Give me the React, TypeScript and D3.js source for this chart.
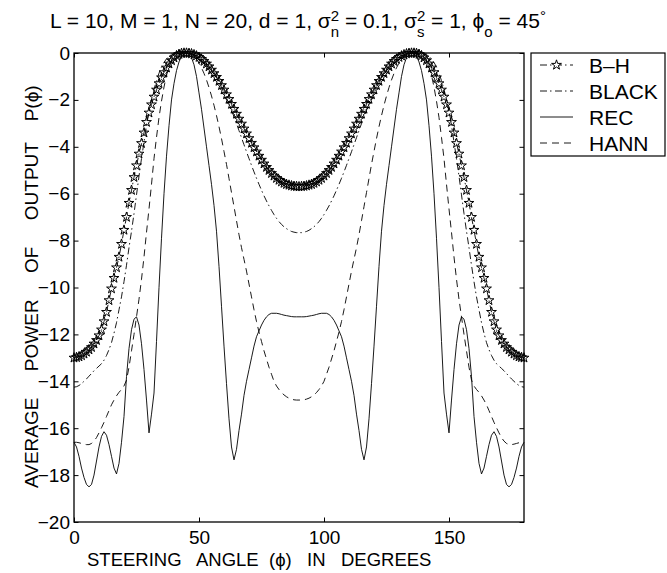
import React, { useEffect, useRef } from 'react';
import * as d3 from 'd3';

// steering angle, degrees
const angles = d3.range(0, 181);

const bhPower = [
  -13.0, -12.98, -12.95, -12.9, -12.83, -12.75, -12.65, -12.55, -12.4, -12.25,
  -12.05, -11.8, -11.45, -11.05, -10.55, -10.05, -9.6, -9.15, -8.7, -8.15,
  -7.55, -7.0, -6.4, -5.85, -5.3, -4.8, -4.3, -3.85, -3.4, -2.95,
  -2.55, -2.2, -1.87, -1.57, -1.3, -1.05, -0.83, -0.63, -0.46, -0.32,
  -0.2, -0.11, -0.05, -0.015, 0, 0, -0.01, -0.03, -0.07, -0.12,
  -0.18, -0.26, -0.35, -0.46, -0.58, -0.72, -0.87, -1.03, -1.2, -1.38,
  -1.57, -1.77, -1.97, -2.18, -2.39, -2.6, -2.81, -3.02, -3.23, -3.44,
  -3.64, -3.84, -4.03, -4.21, -4.39, -4.56, -4.72, -4.87, -5.0, -5.13,
  -5.24, -5.34, -5.42, -5.49, -5.55, -5.6, -5.63, -5.66, -5.68, -5.69,
  -5.7,
  -5.69, -5.68, -5.66, -5.63, -5.6, -5.55, -5.49, -5.42, -5.34, -5.24,
  -5.13, -5.0, -4.87, -4.72, -4.56, -4.39, -4.21, -4.03, -3.84, -3.64,
  -3.44, -3.23, -3.02, -2.81, -2.6, -2.39, -2.18, -1.97, -1.77, -1.57,
  -1.38, -1.2, -1.03, -0.87, -0.72, -0.58, -0.46, -0.35, -0.26, -0.18,
  -0.12, -0.07, -0.03, -0.01, 0, 0, -0.015, -0.05, -0.11, -0.2,
  -0.32, -0.46, -0.63, -0.83, -1.05, -1.3, -1.57, -1.87, -2.2, -2.55,
  -2.95, -3.4, -3.85, -4.3, -4.8, -5.3, -5.85, -6.4, -7.0, -7.55,
  -8.15, -8.7, -9.15, -9.6, -10.05, -10.55, -11.05, -11.45, -11.8, -12.05,
  -12.25, -12.4, -12.55, -12.65, -12.75, -12.83, -12.9, -12.95, -12.98, -13.0,
];

const blackPower = [
  -14.25, -14.23, -14.18, -14.1, -14.0, -13.9, -13.78, -13.67, -13.55, -13.45,
  -13.35, -13.25, -13.1, -12.9, -12.65, -12.35, -11.95, -11.5, -10.95, -10.4,
  -9.75, -9.05, -8.3, -7.6, -6.85, -6.05, -5.25, -4.5, -3.8, -3.1,
  -2.5, -2.0, -1.55, -1.18, -0.86, -0.6, -0.4, -0.25, -0.14, -0.07,
  -0.03, -0.01, 0, 0, 0, 0, -0.01, -0.03, -0.06, -0.11,
  -0.17, -0.25, -0.35, -0.47, -0.6, -0.75, -0.91, -1.08, -1.27, -1.47,
  -1.69, -1.92, -2.17, -2.44, -2.72, -3.01, -3.31, -3.61, -3.91, -4.21,
  -4.5, -4.79, -5.07, -5.34, -5.6, -5.85, -6.09, -6.31, -6.52, -6.71,
  -6.89, -7.05, -7.19, -7.31, -7.41, -7.49, -7.56, -7.61, -7.64, -7.66,
  -7.66,
  -7.66, -7.64, -7.61, -7.56, -7.49, -7.41, -7.31, -7.19, -7.05, -6.89,
  -6.71, -6.52, -6.31, -6.09, -5.85, -5.6, -5.34, -5.07, -4.79, -4.5,
  -4.21, -3.91, -3.61, -3.31, -3.01, -2.72, -2.44, -2.17, -1.92, -1.69,
  -1.47, -1.27, -1.08, -0.91, -0.75, -0.6, -0.47, -0.35, -0.25, -0.17,
  -0.11, -0.06, -0.03, -0.01, 0, 0, 0, 0, -0.01, -0.03,
  -0.07, -0.14, -0.25, -0.4, -0.6, -0.86, -1.18, -1.55, -2.0, -2.5,
  -3.1, -3.8, -4.5, -5.25, -6.05, -6.85, -7.6, -8.3, -9.05, -9.75,
  -10.4, -10.95, -11.5, -11.95, -12.35, -12.65, -12.9, -13.1, -13.25, -13.35,
  -13.45, -13.55, -13.67, -13.78, -13.9, -14.0, -14.1, -14.18, -14.23, -14.25,
];

const recPower = [
  -16.6, -16.8, -17.2, -17.7, -18.1, -18.4, -18.5, -18.4, -18.0, -17.4,
  -16.8, -16.35, -16.15, -16.3, -16.7, -17.2, -17.7, -17.95, -17.5, -16.6,
  -15.5, -13.8, -12.6, -11.8, -11.35, -11.25, -11.6, -12.4, -13.5, -14.8,
  -16.2, -15.4, -14.5, -12.3, -10.0, -7.9, -6.0, -4.4, -3.1, -2.0,
  -1.3, -0.75, -0.38, -0.14, -0.02, 0, -0.05, -0.2, -0.5, -1.0,
  -1.7, -2.4, -3.2, -4.0, -4.8, -5.6, -6.5, -7.6, -9.1, -10.8,
  -12.5, -14.1, -15.6, -16.8, -17.35, -16.9, -16.1, -15.4, -14.6, -14.0,
  -13.5, -13.0, -12.5, -12.1, -11.85, -11.6, -11.4, -11.25, -11.15, -11.1,
  -11.1, -11.1, -11.12, -11.15, -11.18, -11.2, -11.22, -11.24, -11.25, -11.25,
  -11.25,
  -11.25, -11.25, -11.24, -11.22, -11.2, -11.18, -11.15, -11.12, -11.1, -11.1,
  -11.1, -11.15, -11.25, -11.4, -11.6, -11.85, -12.1, -12.5, -13.0, -13.5,
  -14.0, -14.6, -15.4, -16.1, -16.9, -17.35, -16.8, -15.6, -14.1, -12.5,
  -10.8, -9.1, -7.6, -6.5, -5.6, -4.8, -4.0, -3.2, -2.4, -1.7,
  -1.0, -0.5, -0.2, -0.05, 0, -0.02, -0.14, -0.38, -0.75, -1.3,
  -2.0, -3.1, -4.4, -6.0, -7.9, -10.0, -12.3, -14.5, -15.4, -16.2,
  -14.8, -13.5, -12.4, -11.6, -11.25, -11.35, -11.8, -12.6, -13.8, -15.5,
  -16.6, -17.5, -17.95, -17.7, -17.2, -16.7, -16.3, -16.15, -16.35, -16.8,
  -17.4, -18.0, -18.4, -18.5, -18.4, -18.1, -17.7, -17.2, -16.8, -16.6,
];

const hannPower = [
  -16.6, -16.6, -16.62, -16.65, -16.68, -16.7, -16.7, -16.65, -16.55, -16.4,
  -16.2, -15.98, -15.75, -15.5, -15.25, -15.0, -14.8, -14.62, -14.47, -14.35,
  -14.2, -13.95, -13.4, -12.7, -12.0, -11.25, -10.5, -9.65, -8.7, -7.65,
  -6.65, -5.6, -4.5, -3.6, -2.75, -2.05, -1.45, -0.95, -0.6, -0.33,
  -0.15, -0.05, -0.01, 0, 0, 0, -0.02, -0.07, -0.15, -0.27,
  -0.43, -0.63, -0.87, -1.15, -1.47, -1.83, -2.23, -2.67, -3.14, -3.65,
  -4.2, -4.75, -5.35, -5.95, -6.55, -7.15, -7.75, -8.3, -8.8, -9.3,
  -9.85, -10.4, -10.95, -11.45, -11.9, -12.3, -12.7, -13.05, -13.4, -13.7,
  -14.0, -14.2, -14.35, -14.48, -14.58, -14.66, -14.72, -14.76, -14.79, -14.8,
  -14.8,
  -14.8, -14.79, -14.76, -14.72, -14.66, -14.58, -14.48, -14.35, -14.2, -14.0,
  -13.7, -13.4, -13.05, -12.7, -12.3, -11.9, -11.45, -10.95, -10.4, -9.85,
  -9.3, -8.8, -8.3, -7.75, -7.15, -6.55, -5.95, -5.35, -4.75, -4.2,
  -3.65, -3.14, -2.67, -2.23, -1.83, -1.47, -1.15, -0.87, -0.63, -0.43,
  -0.27, -0.15, -0.07, -0.02, 0, 0, 0, -0.01, -0.05, -0.15,
  -0.33, -0.6, -0.95, -1.45, -2.05, -2.75, -3.6, -4.5, -5.6, -6.65,
  -7.65, -8.7, -9.65, -10.5, -11.25, -12.0, -12.7, -13.4, -13.95, -14.2,
  -14.35, -14.47, -14.62, -14.8, -15.0, -15.25, -15.5, -15.75, -15.98, -16.2,
  -16.4, -16.55, -16.65, -16.7, -16.7, -16.68, -16.65, -16.62, -16.6, -16.6,
];

const xTicks = [0, 50, 100, 150];
const yTicks = d3.range(0, -21, -2);
const legendLabels = ['B\u2013H', 'BLACK', 'REC', 'HANN'];

export default function App() {
  const ref = useRef<SVGSVGElement>(null);

  useEffect(() => {
    const svg = d3.select(ref.current);
    svg.selectAll('*').remove();

    const font = 'Liberation Sans, Arial, Helvetica, sans-serif';
    const left = 74, right = 524, top = 53, bottom = 522;

    const x = d3.scaleLinear().domain([0, 180]).range([left, right]);
    const y = d3.scaleLinear().domain([-20, 0]).range([bottom, top]);

    // axes, matlab style ticks pointing inwards
    const tick = 4.5;
    const gl = svg.append('g').attr('transform', `translate(${left},0)`)
      .call(d3.axisLeft(y).tickValues(yTicks).tickSize(-tick).tickPadding(4));
    const gb = svg.append('g').attr('transform', `translate(0,${bottom})`)
      .call(d3.axisBottom(x).tickValues(xTicks).tickSize(-tick).tickPadding(9));
    svg.append('g').attr('transform', `translate(${right},0)`)
      .call(d3.axisRight(y).tickValues(yTicks).tickSize(-tick).tickFormat(() => ''));
    svg.append('g').attr('transform', `translate(0,${top})`)
      .call(d3.axisTop(x).tickValues(xTicks).tickSize(-tick).tickFormat(() => ''));
    svg.selectAll('.domain').remove();
    svg.selectAll('.tick line').attr('stroke', '#000').attr('stroke-width', 1);
    [gl, gb].forEach((g) => g.selectAll('text')
      .attr('font-family', font).attr('font-size', 19).attr('fill', '#000'));

    svg.append('rect')
      .attr('x', left).attr('y', top)
      .attr('width', right - left).attr('height', bottom - top)
      .attr('fill', 'none').attr('stroke', '#000').attr('stroke-width', 1.3);

    const line = d3.line<number>()
      .x((_, i) => x(angles[i]))
      .y((d) => y(d));

    const dashDot = '7,3,1.5,3.5';
    const series = [
      { data: bhPower, dash: dashDot },
      { data: blackPower, dash: dashDot },
      { data: recPower, dash: null },
      { data: hannPower, dash: '7,5' },
    ];
    const plot = svg.append('g');
    series.forEach((s) => {
      plot.append('path')
        .attr('d', line(s.data))
        .attr('fill', 'none')
        .attr('stroke', '#000')
        .attr('stroke-width', 0.9)
        .attr('stroke-dasharray', s.dash);
    });

    // B-H markers, one star per degree
    const star = d3.symbol().type(d3.symbolStar).size(30);
    plot.selectAll('.bh')
      .data(bhPower)
      .enter()
      .append('path')
      .attr('transform', (d, i) => `translate(${x(angles[i])},${y(d)})`)
      .attr('d', star())
      .attr('fill', 'none')
      .attr('stroke', '#000')
      .attr('stroke-width', 1);

    // legend
    const lg = svg.append('g');
    lg.append('rect')
      .attr('x', 531).attr('y', 53).attr('width', 134).attr('height', 103)
      .attr('fill', '#fff').attr('stroke', '#000').attr('stroke-width', 1.2);
    legendLabels.forEach((label, i) => {
      const ly = 65 + i * 26;
      lg.append('line')
        .attr('x1', 540).attr('x2', 573).attr('y1', ly).attr('y2', ly)
        .attr('stroke', '#000').attr('stroke-width', 0.9)
        .attr('stroke-dasharray', series[i].dash);
      if (i === 0) {
        lg.append('path')
          .attr('transform', `translate(556.5,${ly})`)
          .attr('d', star())
          .attr('fill', '#fff').attr('stroke', '#000').attr('stroke-width', 1);
      }
      lg.append('text')
        .attr('x', 589).attr('y', ly).attr('dy', '0.36em')
        .attr('font-family', font).attr('font-size', 21)
        .text(label);
    });

    // axis labels
    svg.append('text')
      .attr('x', 87).attr('y', 566)
      .attr('font-family', font).attr('font-size', 18.5)
      .attr('xml:space', 'preserve').style('white-space', 'pre')
      .text('STEERING   ANGLE  (\u03d5)   IN   DEGREES');
    svg.append('text')
      .attr('transform', 'translate(38,488) rotate(-90)')
      .attr('font-family', font).attr('font-size', 19)
      .attr('xml:space', 'preserve').style('white-space', 'pre')
      .text('AVERAGE     POWER     OF     OUTPUT    P(\u03d5)');

    // title with stacked super/subscripts
    const tg = svg.append('g')
      .attr('font-family', font).attr('font-size', 21)
      .style('white-space', 'pre');
    let cx = 0;
    const baseY = 28;
    const put = (s: string, dy: number, size?: number) => {
      const t = tg.append('text').attr('x', cx).attr('y', baseY + dy)
        .attr('xml:space', 'preserve').text(s);
      if (size) t.attr('font-size', size);
      return (t.node() as SVGTextElement).getComputedTextLength();
    };
    const main = (s: string) => { cx += put(s, 0); };
    const script = (sup: string | null, sub: string | null) => {
      let w = 0;
      if (sup) w = Math.max(w, put(sup, -7, 15));
      if (sub) w = Math.max(w, put(sub, 9, 15));
      cx += w;
    };
    main('L = 10, M = 1, N = 20, d = 1, \u03c3');
    script('2', 'n');
    main(' = 0.1, \u03c3');
    script('2', 's');
    main(' = 1, \u03d5');
    script(null, 'o');
    main(' = 45');
    script('\u00b0', null);
    tg.attr('transform', `translate(${298 - cx / 2},0)`);
  }, []);

  return (
    <svg
      ref={ref}
      width={667}
      height={573}
      style={{ position: 'absolute', left: 0, top: 0, background: '#fff' }}
    />
  );
}
